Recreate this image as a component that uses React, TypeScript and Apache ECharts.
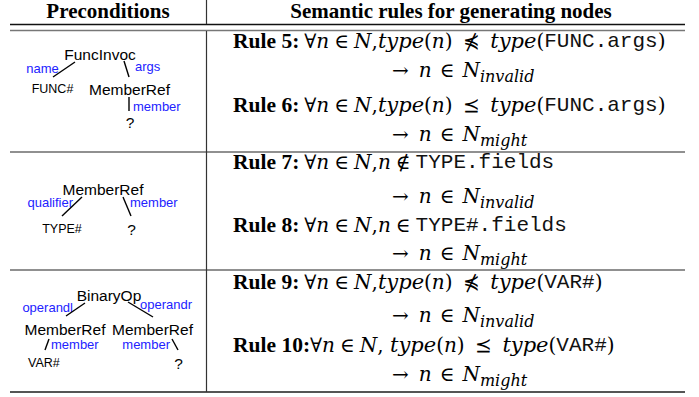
import React, { useEffect, useRef } from "react";
import * as echarts from "echarts";

// ---------- data ----------
const HEADERS = ["Preconditions", "Semantic rules for generating nodes"];
const RULE_LABELS = ["Rule 5:", "Rule 6:", "Rule 7:", "Rule 8:", "Rule 9:", "Rule 10:"];
const RULE_KINDS = ["type", "type", "member", "member", "type", "type"];
const RULE_RELATIONS = ["⋠", "⪯", "∉", "∈", "⋠", "⪯"];
const RULE_TARGETS = ["FUNC.args", "FUNC.args", "TYPE.fields", "TYPE#.fields", "VAR#", "VAR#"];
const RULE_OUTCOMES = ["invalid", "might", "invalid", "might", "invalid", "might"];

const TREE1_NODES = ["FuncInvoc", "FUNC#", "MemberRef", "?"];
const TREE1_EDGES = ["name", "args", "member"];
const TREE2_NODES = ["MemberRef", "TYPE#", "?"];
const TREE2_EDGES = ["qualifier", "member"];
const TREE3_NODES = ["BinaryOp", "MemberRef", "MemberRef", "VAR#", "?"];
const TREE3_EDGES = ["operandl", "operandr", "member", "member"];

// ---------- styling ----------
const BLUE = "#2222ff";
const SANS = "'Liberation Sans', Arial, sans-serif";
const SERIF = "'Liberation Serif', 'Times New Roman', serif";
const MATH = "'DejaVu Serif', serif";
const MONO = "'Liberation Mono', 'Courier New', monospace";

const RICH = {
  b: { fontFamily: SERIF, fontWeight: "bold", fontSize: 21.5, fill: "#000" },
  i: { fontFamily: MATH, fontStyle: "italic", fontSize: 20, fill: "#000" },
  ty: { fontFamily: MATH, fontStyle: "italic", fontSize: 21, fill: "#000" },
  s: { fontFamily: MATH, fontSize: 20, fill: "#000" },
  rel: { fontFamily: MATH, fontSize: 20, fill: "#000", padding: [0, 4, 0, 4] },
  rel2: { fontFamily: MATH, fontSize: 20, fill: "#000", padding: [0, 8, 0, 8] },
  ar: { fontFamily: MATH, fontSize: 20, fill: "#000", padding: [0, 10, 0, 0] },
  t: { fontFamily: MONO, fontSize: 21, fill: "#111" },
  sub: { fontFamily: MATH, fontStyle: "italic", fontSize: 16, fill: "#000", padding: [13, 0, 0, 0] },
};

function ruleText(k: number): string {
  const label = RULE_LABELS[k];
  const gap = label.length > 7 ? "" : " ";
  const comma = label.length > 7 ? "{s|, }" : "{s|,}";
  const head = `{b|${label}}${gap}{s|∀}{i|n} {s|∈} {i|N}${comma}`;
  if (RULE_KINDS[k] === "type") {
    return head + `{ty|type}{s|(}{i|n}{s|)}{rel| ${RULE_RELATIONS[k]} }{ty|type}{s|(}{t|${RULE_TARGETS[k]}}{s|)}`;
  }
  return head + `{i|n} {s|${RULE_RELATIONS[k]}} {t|${RULE_TARGETS[k]}}`;
}
function outcomeText(k: number): string {
  return `{ar|→}{i|n}{rel2|∈}{i|N}{sub|${RULE_OUTCOMES[k]}}`;
}

const RULE_BASELINES = [48, 112, 169, 232, 289, 352];
const OUT_BASELINES = [77, 141, 203, 260, 322, 381];

function txt(text: string, x: number, y: number, size: number, color = "#000", align = "center") {
  return {
    type: "text",
    x,
    y,
    silent: true,
    style: {
      text,
      fill: color,
      fontFamily: SANS,
      fontSize: size,
      align,
      verticalAlign: "middle",
    },
  };
}
function ln(x1: number, y1: number, x2: number, y2: number, stroke = "#000", w = 1.4) {
  return { type: "line", silent: true, shape: { x1, y1, x2, y2 }, style: { stroke, lineWidth: w } };
}

export default function App() {
  const ref = useRef<HTMLDivElement>(null);
  useEffect(() => {
    document.body.style.margin = "0";
    if (!ref.current) return;
    const chart = echarts.init(ref.current, null, { renderer: "svg" });
    const els: any[] = [];

    // table rules
    els.push(ln(10, 24.5, 685, 24.5, "#111", 1.3));
    els.push(ln(10, 30.5, 685, 30.5, "#777", 1.3));
    els.push(ln(10, 152, 685, 152, "#222", 1.2));
    els.push(ln(10, 270, 685, 270, "#222", 1.2));
    els.push(ln(10, 392, 685, 392, "#555", 1.8));
    els.push(ln(206.5, 0, 206.5, 24, "#333", 1.2));
    els.push(ln(206.5, 31, 206.5, 392, "#333", 1.2));

    // headers
    const hdr = (t: string, x: number) => ({
      type: "text",
      x,
      y: 10.5,
      silent: true,
      style: {
        text: t,
        fill: "#000",
        fontFamily: SERIF,
        fontWeight: "bold",
        fontSize: 21,
        lineHeight: 16,
        align: "center",
        verticalAlign: "middle",
      },
    });
    els.push(hdr(HEADERS[0], 108));
    els.push(hdr(HEADERS[1], 451));

    // rules
    for (let k = 0; k < RULE_LABELS.length; k++) {
      els.push({
        type: "text",
        x: 233,
        y: RULE_BASELINES[k] - 7,
        silent: true,
        style: { text: ruleText(k), fill: "#000", fontFamily: SERIF, fontSize: 20, align: "left", verticalAlign: "middle", rich: RICH },
      });
      els.push({
        type: "text",
        x: 392,
        y: OUT_BASELINES[k] - 7,
        silent: true,
        style: { text: outcomeText(k), fill: "#000", fontFamily: SERIF, fontSize: 20, align: "left", verticalAlign: "middle", rich: RICH },
      });
    }

    // tree 1
    els.push(txt(TREE1_NODES[0], 100, 54, 15.5));
    els.push(txt(TREE1_EDGES[0], 42.5, 68, 13, BLUE));
    els.push(txt(TREE1_EDGES[1], 135, 66, 13, BLUE, "left"));
    els.push(ln(75, 62, 53, 77));
    els.push(ln(124, 61, 129, 77));
    els.push(txt(TREE1_NODES[1], 52.5, 89, 12.5));
    els.push(txt(TREE1_NODES[2], 129.5, 89, 15.5));
    els.push(ln(129, 97, 129, 111));
    els.push(txt(TREE1_EDGES[2], 133, 106, 13, BLUE, "left"));
    els.push(txt(TREE1_NODES[3], 130, 122, 15.5));

    // tree 2
    els.push(txt(TREE2_NODES[0], 103, 189, 15.5));
    els.push(txt(TREE2_EDGES[0], 73, 202, 13, BLUE, "right"));
    els.push(txt(TREE2_EDGES[1], 130, 202, 13, BLUE, "left"));
    els.push(ln(82, 197, 62, 216));
    els.push(ln(123, 197, 131, 216));
    els.push(txt(TREE2_NODES[1], 62, 229, 12.5));
    els.push(txt(TREE2_NODES[2], 131.5, 229, 15.5));

    // tree 3
    els.push(txt(TREE3_NODES[0], 109, 295, 15.5));
    els.push(txt(TREE3_EDGES[0], 73, 307, 13, BLUE, "right"));
    els.push(txt(TREE3_EDGES[1], 140, 304, 13, BLUE, "left"));
    els.push(ln(85, 303, 66, 316));
    els.push(ln(128, 302, 153, 317));
    els.push(txt(TREE3_NODES[1], 65, 329, 15.5));
    els.push(txt(TREE3_NODES[2], 152.5, 329, 15.5));
    els.push(ln(49, 339, 45, 350));
    els.push(txt(TREE3_EDGES[2], 51, 344, 13, BLUE, "left"));
    els.push(txt(TREE3_EDGES[3], 170, 344, 13, BLUE, "right"));
    els.push(ln(172, 339, 178, 350));
    els.push(txt(TREE3_NODES[3], 28, 363, 12.5, "#000", "left"));
    els.push(txt(TREE3_NODES[4], 178.5, 363, 15.5));

    chart.setOption({
      animation: false,
      backgroundColor: "#fff",
      graphic: { elements: els },
    });
    return () => chart.dispose();
  }, []);
  return <div ref={ref} style={{ width: 699, height: 397 }} />;
}
